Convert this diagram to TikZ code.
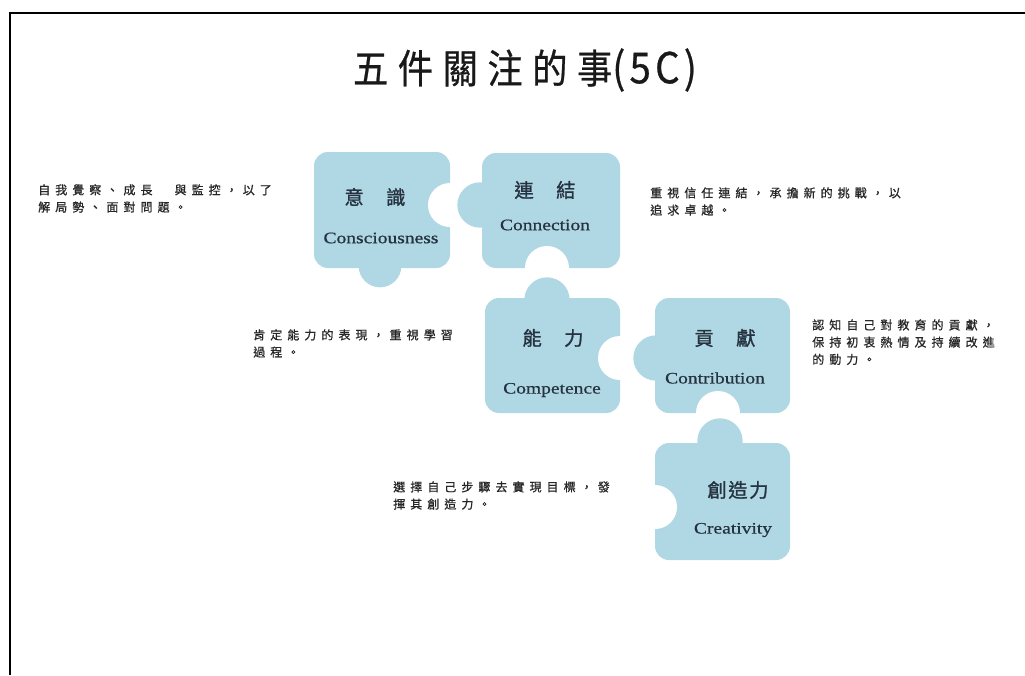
\documentclass[tikz,border=0pt]{standalone}
\usepackage{fontspec}
\setmainfont{Liberation Serif}
\newfontfamily\cjk[Language=Chinese Traditional,FakeBold=1.2]{Noto Sans CJK TC}
\newfontfamily\cjkdesc[Language=Chinese Traditional,LetterSpace=42,FakeBold=0.8]{Noto Sans CJK TC}
\newfontfamily\cjktitle[Language=Chinese Traditional,LetterSpace=24,FakeStretch=0.88,FakeBold=0.6]{Noto Sans CJK TC}
\newfontfamily\cjktitlelatin[LetterSpace=10,FakeStretch=0.9,FakeBold=0.6]{Noto Sans CJK TC}
\newfontfamily\enwide[FakeStretch=1.22,FakeBold=0.7]{Liberation Serif}
\definecolor{puzzle}{HTML}{B0D8E4}
\definecolor{inktext}{HTML}{25323F}
\definecolor{desctext}{HTML}{262626}
\tikzset{
  piecebody/.style={fill=puzzle, rounded corners=10.5pt},
  notch/.style={fill=white},
  tab/.style={fill=puzzle},
  cjklabel/.style={font=\fontsize{14.5}{16}\cjk\addfontfeature{LetterSpace=8}, text=inktext, inner sep=0pt},
  enlabel/.style={font=\fontsize{12}{14}\enwide, text=inktext, inner sep=0pt},
  desc/.style={font=\fontsize{9}{12.9}\cjkdesc, text=desctext, align=left, anchor=north west, inner sep=0pt},
}
\begin{document}
\begin{tikzpicture}[x=0.75pt,y=-0.75pt]
\useasboundingbox (0,0) rectangle (1025,675);
\fill[white] (0,0) rectangle (1025,675);
\draw[line width=1.6pt] (10,675) -- (10,13) -- (1025,13);

% title
\node[font=\fontsize{30}{34}\selectfont, text=black!90, inner sep=0pt] (title) at (525,70) {{\cjktitle 五件關注的事}{\fontsize{32}{34}\cjktitlelatin (5C)}};

% bodies
\fill[piecebody] (314,152) rectangle (450,268);
\fill[piecebody] (482,153) rectangle (620,268);
\fill[piecebody] (485,298) rectangle (620,413);
\fill[piecebody] (655,298) rectangle (790,413);
\fill[piecebody] (655,443) rectangle (790,560);

% notches
\fill[notch] (450,205) circle [radius=16.5pt];
\fill[notch] (547,268) circle [radius=16.5pt];
\fill[notch] (620,358) circle [radius=16.5pt];
\fill[notch] (718,413) circle [radius=16.5pt];
\fill[notch] (655,507) circle [radius=16.5pt];

% tabs
\fill[tab] (380,266) circle [radius=16pt];
\fill[tab] (480,205) circle [radius=17pt];
\fill[tab] (547,300) circle [radius=17pt];
\fill[tab] (656,358) circle [radius=17pt];
\fill[tab] (720,441) circle [radius=17pt];

% piece labels
\node[cjklabel] (c1) at (375,197) {意　識};
\node[enlabel]  (e1) at (381,238) {Consciousness};
\node[cjklabel] (c2) at (545,190) {連　結};
\node[enlabel]  (e2) at (545,225) {Connection};
\node[cjklabel] (c3) at (553,338) {能　力};
\node[enlabel]  (e3) at (552,390) {Competence};
\node[cjklabel] (c4) at (725,338) {貢　獻};
\node[enlabel]  (e4) at (715,378) {Contribution};
\node[cjklabel] (c5) at (738,490) {創造力};
\node[enlabel]  (e5) at (733,530) {Creativity};

% descriptions
\node[desc] (d1) at (38,184) {自我覺察、成長　與監控，以了\\解局勢、面對問題。};
\node[desc] (d2) at (650,187) {重視信任連結，承擔新的挑戰，以\\追求卓越。};
\node[desc] (d3) at (253,329) {肯定能力的表現，重視學習\\過程。};
\node[desc] (d4) at (812,319) {認知自己對教育的貢獻，\\保持初衷熱情及持續改進\\的動力。};
\node[desc] (d5) at (393,481) {選擇自己步驟去實現目標，發\\揮其創造力。};
\end{tikzpicture}
\end{document}
